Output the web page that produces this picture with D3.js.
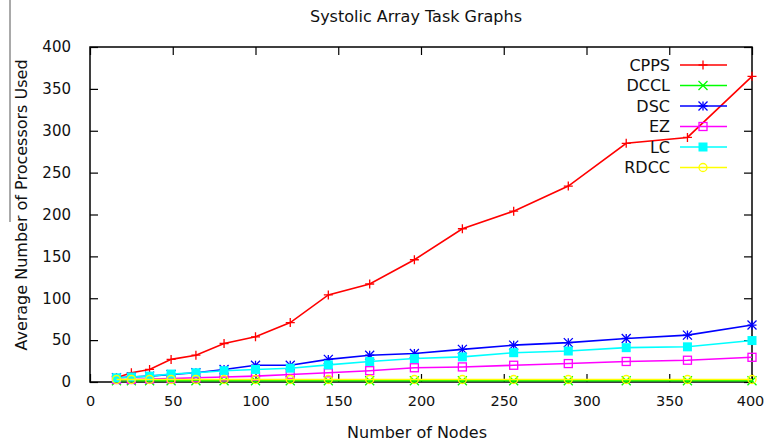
<!DOCTYPE html>
<html>
<head>
<meta charset="utf-8">
<script src="https://d3js.org/d3.v7.min.js"></script>
<title>Systolic Array Task Graphs</title>
<style>
body { margin: 0; background: #fff; }
svg text { font-family: "DejaVu Sans", sans-serif; fill: #111; }
</style>
</head>
<body>
<svg id="canvas" width="765" height="443"></svg>
<script>
// number of nodes (4x4 .. 20x20 arrays)
var nodes = [16, 25, 36, 49, 64, 81, 100, 121, 144, 169, 196, 225, 256, 289, 324, 361, 400];
var cpps = [5, 11, 15, 27, 32, 46, 54, 71, 104, 117, 146, 183, 204, 234, 285, 292, 365];
var dccl = [1.5, 1.5, 1.5, 1.5, 1.5, 1.5, 1.5, 1.5, 1.5, 1.5, 1.5, 1.5, 1.5, 1.5, 1.5, 1.5, 1.5];
var dsc  = [5, 6, 7, 9, 11, 15, 20, 20, 27, 32, 34, 39, 44, 47, 52, 56, 68];
var ez   = [3, 3, 3.5, 4, 5, 6, 7, 9, 11, 13.5, 17, 18, 20, 22, 24.5, 26, 29.5];
var lc   = [5, 6, 7, 9.5, 11, 13.5, 15, 16.5, 20.5, 24.5, 28, 30, 35, 37, 41, 42, 49.5];
var rdcc = [3, 3, 3, 3, 3, 3, 3, 3, 3, 3, 3, 3, 3, 3, 3, 3, 3];
var xTicks = [0, 50, 100, 150, 200, 250, 300, 350, 400];
var yTicks = [0, 50, 100, 150, 200, 250, 300, 350, 400];

var series = [
  {name: "CPPS", values: cpps, color: "#ff0000", mark: "plus"},
  {name: "DCCL", values: dccl, color: "#00ff00", mark: "cross"},
  {name: "DSC",  values: dsc,  color: "#0000ff", mark: "star"},
  {name: "EZ",   values: ez,   color: "#ff00ff", mark: "box"},
  {name: "LC",   values: lc,   color: "#00ffff", mark: "fbox"},
  {name: "RDCC", values: rdcc, color: "#ffff00", mark: "circle"}
];

var pLeft = 90, pRight = 752, pTop = 47, pBottom = 382;
var svg = d3.select("#canvas");

var x = d3.scaleLinear().domain([0, 400]).range([pLeft, pRight]);
var y = d3.scaleLinear().domain([0, 400]).range([pBottom, pTop]);

// stray rule at the far left of the scan
svg.append("line").attr("x1", 10).attr("x2", 10).attr("y1", 0).attr("y2", 222)
   .attr("stroke", "#555").attr("stroke-width", 1);

// title
svg.append("text").attr("x", 416).attr("y", 22).attr("text-anchor", "middle")
   .style("font-size", "16px").text("Systolic Array Task Graphs");

// plot border
svg.append("rect").attr("x", pLeft).attr("y", pTop).attr("width", pRight - pLeft).attr("height", pBottom - pTop)
   .attr("fill", "none").attr("stroke", "#000").attr("stroke-width", 1.5);

// axes, gnuplot style: ticks inward on all four sides
var tl = 8;
function tickAxis(axis, tr) {
  var g = svg.append("g").attr("transform", tr).call(axis);
  g.select(".domain").remove();
  g.selectAll(".tick line").attr("stroke", "#000").attr("stroke-width", 1.2);
  return g;
}
var gx = tickAxis(d3.axisBottom(x).tickValues(xTicks).tickSizeInner(-tl).tickPadding(tl + 6), "translate(0," + pBottom + ")");
gx.selectAll("text").style("font-size", "14.5px").attr("fill", "#111");
gx.selectAll("text").filter(function(d) { return d === 400; }).attr("dx", "-2");
var gy = tickAxis(d3.axisLeft(y).tickValues(yTicks).tickSizeInner(-tl).tickPadding(tl + 11), "translate(" + pLeft + ",0)");
gy.selectAll("text").style("font-size", "15px").attr("fill", "#111");
tickAxis(d3.axisTop(x).tickValues(xTicks).tickSizeInner(-tl).tickFormat(""), "translate(0," + pTop + ")");
tickAxis(d3.axisRight(y).tickValues(yTicks).tickSizeInner(-tl).tickFormat(""), "translate(" + pRight + ",0)");

// axis labels
svg.append("text").attr("x", 417).attr("y", 438).attr("text-anchor", "middle")
   .style("font-size", "16px").text("Number of Nodes");
svg.append("text").attr("transform", "translate(27,205) rotate(-90)").attr("text-anchor", "middle")
   .style("font-size", "16px").text("Average Number of Processors Used");

function drawMark(g, type, color, cx, cy) {
  var s = 4.5;
  if (type === "plus" || type === "star") {
    g.append("path").attr("d", "M" + (cx - s) + "," + cy + "H" + (cx + s) + "M" + cx + "," + (cy - s) + "V" + (cy + s))
     .attr("stroke", color).attr("stroke-width", 1.3).attr("fill", "none");
  }
  if (type === "cross" || type === "star") {
    g.append("path").attr("d", "M" + (cx - s) + "," + (cy - s) + "L" + (cx + s) + "," + (cy + s) + "M" + (cx - s) + "," + (cy + s) + "L" + (cx + s) + "," + (cy - s))
     .attr("stroke", color).attr("stroke-width", 1.3).attr("fill", "none");
  }
  if (type === "box") {
    g.append("rect").attr("x", cx - 4).attr("y", cy - 4).attr("width", 8).attr("height", 8)
     .attr("stroke", color).attr("stroke-width", 1.3).attr("fill", "none");
  }
  if (type === "fbox") {
    g.append("rect").attr("x", cx - 4.5).attr("y", cy - 4.5).attr("width", 9).attr("height", 9)
     .attr("fill", color);
  }
  if (type === "circle") {
    g.append("circle").attr("cx", cx).attr("cy", cy).attr("r", 4)
     .attr("stroke", color).attr("stroke-width", 1.3).attr("fill", "none");
  }
}

var line = d3.line().x(function(d) { return x(d[0]); }).y(function(d) { return y(d[1]); });

series.forEach(function(s, i) {
  var pts = nodes.map(function(n, j) { return [n, s.values[j]]; });
  var g = svg.append("g");
  g.append("path").datum(pts).attr("d", line).attr("fill", "none")
   .attr("stroke", s.color).attr("stroke-width", 1.6);
  pts.forEach(function(p) { drawMark(g, s.mark, s.color, x(p[0]), y(p[1])); });

  // legend entry
  var ly = 65 + i * 20.5;
  svg.append("text").attr("x", 670).attr("y", ly).attr("dy", "0.35em").attr("text-anchor", "end")
     .style("font-size", "16px").text(s.name);
  svg.append("line").attr("x1", 680).attr("x2", 727).attr("y1", ly).attr("y2", ly)
     .attr("stroke", s.color).attr("stroke-width", 1.6);
  drawMark(svg, s.mark, s.color, 703, ly);
});
</script>
</body>
</html>
